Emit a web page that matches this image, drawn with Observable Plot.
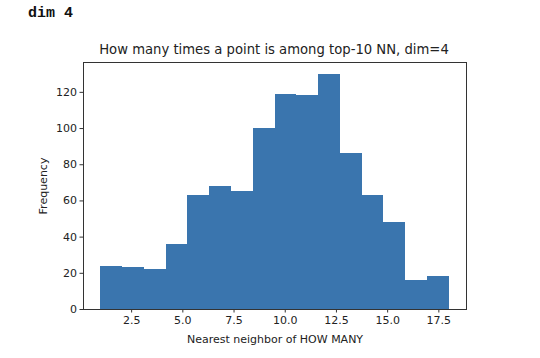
<!DOCTYPE html>
<html>
<head>
<meta charset="utf-8">
<script src="https://cdn.jsdelivr.net/npm/d3@7"></script>
<script src="https://cdn.jsdelivr.net/npm/@observablehq/plot@0.6"></script>
<style>
  body { margin: 0; background: #fff; }
  #wrap { position: relative; width: 540px; height: 358px; overflow: hidden; }
  #cell { position: absolute; left: 28px; top: 5px; font: bold 15px "Liberation Mono", monospace; color: #111; }
  #title { position: absolute; left: 0; width: 548px; top: 42px; text-align: center; font: 13.2px "DejaVu Sans", sans-serif; color: #222; }
  #chart { position: absolute; left: 0; top: 0; }
</style>
</head>
<body>
<div id="wrap">
  <div id="chart"></div>
  <div id="cell">dim 4</div>
  <div id="title">How many times a point is among top-10 NN, dim=4</div>
</div>
<script>
// Histogram counts (16 bins spanning 1 .. 18)
const binMin = 1;
const binMax = 18;
const counts = [24, 23, 22, 36, 63, 68, 65, 100, 119, 118, 130, 86, 63, 48, 16, 18];
const xTicks = [2.5, 5.0, 7.5, 10.0, 12.5, 15.0, 17.5];
const yTicks = [0, 20, 40, 60, 80, 100, 120];
const xLabel = "Nearest neighbor of HOW MANY";
const yLabel = "Frequency";

const w = (binMax - binMin) / counts.length;
const bins = counts.map((c, i) => ({x1: binMin + i * w, x2: binMin + (i + 1) * w, y: c}));
const pad = (binMax - binMin) * 0.05;
const yMax = d3.max(counts) * 1.05;

const chart = Plot.plot({
  width: 540,
  height: 358,
  marginTop: 62,
  marginBottom: 49,
  marginLeft: 83,
  marginRight: 74,
  style: {fontFamily: "DejaVu Sans, sans-serif", fontSize: "11px", color: "#222", background: "#fff"},
  x: {domain: [binMin - pad, binMax + pad]},
  y: {domain: [0, yMax]},
  marks: [
    Plot.rectY(bins, {x1: "x1", x2: "x2", y: "y", fill: "#3a75ae", inset: 0, shapeRendering: "crispEdges"}),
    Plot.axisX({ticks: xTicks, tickFormat: d => d.toFixed(1), tickSize: 3.5, tickPadding: 3, stroke: "#333",
      label: xLabel, labelAnchor: "center", labelArrow: "none", labelOffset: 33}),
    Plot.axisY({ticks: yTicks, tickFormat: d => String(d), tickSize: 3.5, tickPadding: 3, stroke: "#333",
      label: yLabel, labelAnchor: "center", labelArrow: "none", labelOffset: 44}),
    Plot.frame({stroke: "#333", strokeWidth: 1})
  ]
});
document.getElementById("chart").appendChild(chart);
</script>
</body>
</html>
